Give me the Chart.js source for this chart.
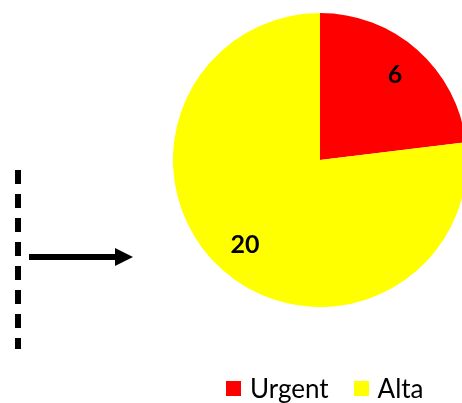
<!DOCTYPE html>
<html>
<head>
<meta charset="utf-8">
<script src="https://cdn.jsdelivr.net/npm/chart.js@4"></script>
<style>
  html, body { margin: 0; padding: 0; width: 462px; height: 403px; overflow: hidden; background: #fff; }
  #wrap { position: absolute; left: 0; top: 0; width: 480px; height: 403px; }
  #legend { position: absolute; left: 226px; top: 375px; display: flex; font-family: Lato, "DejaVu Sans", sans-serif; font-size: 26px; line-height: 26px; color: #000; }
  #legend span.item { display: flex; align-items: center; margin-right: 25px; }
  #legend span.box { display: inline-block; width: 15px; height: 15px; margin-right: 9px; }
</style>
</head>
<body>
<div id="wrap"><canvas id="pie" width="480" height="403"></canvas></div>
<div id="legend"></div>
<script>
// Chart data
const labels = ['Urgent', 'Alta'];
const values = [6, 20];
const colors = ['#ff0000', '#ffff00'];

// Value labels drawn inside each slice
const sliceLabels = {
    id: 'sliceLabels',
    afterDatasetsDraw(chart) {
        const ctx = chart.ctx;
        const meta = chart.getDatasetMeta(0);
        ctx.save();
        ctx.font = 'bold 25px Lato, "DejaVu Sans", sans-serif';
        ctx.fillStyle = '#000';
        ctx.textAlign = 'center';
        ctx.textBaseline = 'middle';
        meta.data.forEach((arc, i) => {
            const p = arc.getProps(['x', 'y', 'startAngle', 'endAngle', 'outerRadius'], true);
            const mid = (p.startAngle + p.endAngle) / 2;
            const r = p.outerRadius * 0.77;
            ctx.fillText(String(values[i]), p.x + Math.cos(mid) * r, p.y + Math.sin(mid) * r);
        });
        ctx.restore();
    }
};

// Dashed marker and arrow on the left
const annotations = {
    id: 'annotations',
    afterDraw(chart) {
        const ctx = chart.ctx;
        ctx.save();
        ctx.strokeStyle = '#000';
        ctx.lineWidth = 6;
        ctx.setLineDash([14, 10]);
        ctx.beginPath();
        ctx.moveTo(18, 170);
        ctx.lineTo(18, 349);
        ctx.stroke();
        ctx.setLineDash([]);
        ctx.beginPath();
        ctx.moveTo(29, 257);
        ctx.lineTo(118, 257);
        ctx.stroke();
        ctx.fillStyle = '#000';
        ctx.beginPath();
        ctx.moveTo(115, 248);
        ctx.lineTo(133, 257);
        ctx.lineTo(115, 266);
        ctx.closePath();
        ctx.fill();
        ctx.restore();
    }
};

new Chart(document.getElementById('pie'), {
    type: 'pie',
    data: {
        labels: labels,
        datasets: [{
            data: values,
            backgroundColor: colors,
            borderWidth: 0
        }]
    },
    options: {
        responsive: false,
        animation: false,
        layout: { padding: { left: 173, right: 13, top: 13, bottom: 96 } },
        plugins: {
            legend: { display: false },
            tooltip: { enabled: false }
        }
    },
    plugins: [sliceLabels, annotations]
});

// HTML legend
const legendEl = document.getElementById('legend');
labels.forEach((name, i) => {
    const item = document.createElement('span');
    item.className = 'item';
    const box = document.createElement('span');
    box.className = 'box';
    box.style.background = colors[i];
    item.appendChild(box);
    item.appendChild(document.createTextNode(name));
    legendEl.appendChild(item);
});
</script>
</body>
</html>
